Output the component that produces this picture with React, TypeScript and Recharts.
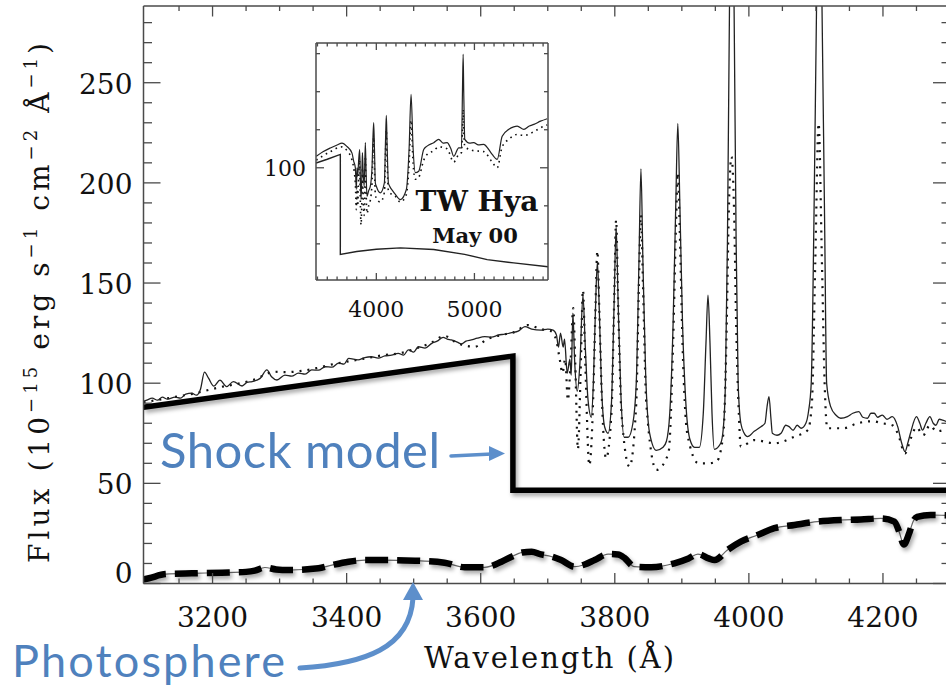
import React from "react";
import { ComposedChart, LineChart, Line, XAxis, YAxis } from "recharts";

type Pt = [number, number];

// ---- main panel data (wavelength in Å, flux in 1e-15 erg/s/cm2/Å) ----
const observedSolid: Pt[] = [
  [3097, 91], [3102, 91.6], [3110, 92.5], [3118, 91.5], [3125, 93], [3133, 92], [3144, 93], [3152, 92.5],
  [3160, 94.5], [3169, 95], [3176, 94], [3182, 97], [3188, 105.5], [3194, 102.5], [3202, 98.5], [3211, 101.5],
  [3221, 98.3], [3231, 100.8], [3244, 98.6], [3252, 100.5], [3259, 100.8], [3266, 101.5], [3271, 102.4],
  [3281, 106.6], [3288, 103.2], [3296, 101.6], [3308, 104], [3318, 103.5], [3328, 105], [3338, 104.5],
  [3348, 106.6], [3358, 106.5], [3368, 108.2], [3378, 108], [3388, 110], [3396, 109.5], [3403, 112.4],
  [3417, 111.6], [3427, 112.8], [3437, 113.2], [3447, 112.5], [3457, 113.6], [3467, 114], [3477, 114.9],
  [3485, 114], [3492, 116.6], [3500, 115.5], [3507, 118.2], [3517, 117.5], [3527, 119.9], [3535, 121],
  [3544, 122.9], [3550, 122], [3556, 121.6], [3565, 120.5], [3571, 119.6], [3578, 121], [3586, 121.6],
  [3595, 122.5], [3606, 123.2], [3616, 123], [3626, 124], [3636, 124.5], [3646, 125.2], [3656, 126],
  [3666, 128.2], [3676, 127], [3690, 126.5], [3700, 127], [3708, 126.5],
  [3713, 124], [3716, 118], [3719, 125], [3723, 118], [3725, 122], [3729, 105], [3733, 112], [3735, 104],
  [3737.5, 135], [3740, 112], [3744, 96], [3748, 110], [3752.5, 144], [3756, 118], [3760, 92], [3765, 83],
  [3768, 100], [3771, 135], [3774, 160.5], [3777, 135], [3780, 100], [3785, 78], [3790, 75], [3795, 90],
  [3799, 140], [3802, 178], [3805, 140], [3809, 95], [3814, 73], [3820, 73], [3827, 80], [3832, 100],
  [3836, 160], [3839, 207], [3842, 160], [3846, 105], [3852, 75], [3862, 66.5], [3872, 68], [3877, 71],
  [3882, 85], [3887, 130], [3891, 190], [3894, 229.7], [3897, 190], [3901, 130], [3906, 90], [3912, 72],
  [3919, 68], [3926, 68], [3932, 85], [3936, 120], [3939, 144], [3942, 120], [3945, 85], [3948.5, 67],
  [3958, 70], [3962, 78], [3965, 100], [3968, 170], [3971, 285], [3974.5, 380], [3978, 285], [3981, 170],
  [3984, 100], [3988, 80], [3993, 75], [3998, 73.3], [4008, 76], [4018, 78.3], [4024, 80], [4027, 88],
  [4030, 93.3], [4033, 82], [4035, 75], [4042, 74], [4048, 75], [4055, 79], [4060, 78.3], [4066, 76.5],
  [4072, 79], [4078, 77.5], [4085, 80], [4089, 86], [4093, 100], [4097, 180], [4101, 290], [4105, 380],
  [4109, 290], [4113, 180], [4116, 100], [4122, 88.3], [4130, 84], [4137, 82.5], [4147, 83.3], [4155, 85],
  [4164, 85.8], [4170, 83], [4177, 82.5], [4182, 85], [4187, 85], [4192, 83], [4199, 84.1], [4206, 82],
  [4214, 83.3], [4222, 78.3], [4228, 70], [4233, 65.8], [4237, 70], [4241, 75], [4250, 83.3], [4255, 80],
  [4259, 76.6], [4264, 80], [4270, 83.3], [4275, 80], [4279, 79], [4284, 82], [4289, 81.6], [4300, 80],
];

const observedDotted: Pt[] = [
  [3097, 90.5], [3125, 92], [3150, 93.5], [3175, 95], [3194, 96.6], [3211, 98], [3235, 99.5], [3260, 101.5],
  [3293, 105.7], [3308, 105.5], [3330, 106], [3355, 107.5], [3380, 109.5], [3405, 111], [3430, 112.5],
  [3455, 114], [3480, 115], [3505, 117.5], [3525, 120], [3546, 123.6], [3565, 120], [3591, 118.2],
  [3610, 122], [3630, 124], [3650, 125.5], [3670, 129], [3690, 127], [3705, 126], [3713, 121], [3718, 111.6],
  [3722, 105], [3726, 112], [3730, 91.5], [3734, 110], [3738, 137.5], [3741, 110], [3745, 67], [3749, 105],
  [3752.5, 146.5], [3756, 110], [3762, 59], [3768, 95], [3771, 135], [3774, 166], [3777, 135], [3781, 90],
  [3787, 62.5], [3795, 85], [3799, 140], [3802, 181.5], [3805, 140], [3810, 85], [3822, 58.3], [3832, 90],
  [3836, 150], [3839, 184], [3842, 150], [3847, 90], [3862, 56.7], [3880, 65], [3887, 120], [3891, 175],
  [3894, 205], [3897, 175], [3901, 120], [3908, 75], [3925, 60], [3940, 60], [3952, 61], [3962, 75],
  [3967, 130], [3970, 185], [3974, 213], [3978, 185], [3981, 130], [3985, 85], [3988, 68.3], [4008, 71.6],
  [4038, 70], [4068, 73.3], [4088, 76.6], [4094, 90], [4099, 160], [4104, 229.7], [4109, 160], [4113, 100],
  [4117, 77.5], [4141, 77.5], [4162, 80], [4185, 81], [4199, 80], [4214, 79], [4222, 75], [4233, 65],
  [4241, 72], [4250, 78], [4260, 74], [4270, 79], [4280, 76], [4300, 78],
];

const shockModel: Pt[] = [[3097, 88], [3648, 113.5], [3648, 46.5], [4300, 46.5]];

const photosphere: Pt[] = [
  [3097, 2], [3105, 2.6], [3130, 4.7], [3169, 5.1], [3214, 5.4], [3250, 5.8], [3263, 6.4], [3278, 8],
  [3295, 7], [3313, 6.7], [3358, 7.6], [3378, 9.2], [3403, 10.9], [3427, 11.7], [3452, 11.7], [3502, 11.4],
  [3546, 10.4], [3576, 8.1], [3606, 8.1], [3631, 10.9], [3646, 13.4], [3662, 15.5], [3676, 15.9],
  [3690, 14.5], [3705, 13.5], [3720, 11.7], [3740, 8.4], [3755, 9.5], [3770, 11.7], [3790, 14.7],
  [3805, 14.5], [3815, 12.6], [3829, 8.4], [3854, 8.1], [3889, 10.1], [3910, 12.5], [3924, 14.7],
  [3940, 12.5], [3949, 11.7], [3968, 16.7], [3988, 20.9], [4013, 24.2], [4038, 27.6], [4068, 29.2],
  [4102, 30.9], [4137, 31.7], [4167, 32], [4197, 32.5], [4217, 30.9], [4224, 26], [4231, 19.5], [4239, 25],
  [4245, 31], [4251, 33.3], [4271, 34.2], [4300, 34],
];

const xMajor = [3200, 3400, 3600, 3800, 4000, 4200];
const xTicks = [
  3150, 3200, 3250, 3300, 3350, 3400, 3450, 3500, 3550, 3600, 3650, 3700, 3750, 3800, 3850, 3900, 3950,
  4000, 4050, 4100, 4150, 4200, 4250,
];
const yMajor = [0, 50, 100, 150, 200, 250];
const yTicks = [
  0, 10, 20, 30, 40, 50, 60, 70, 80, 90, 100, 110, 120, 130, 140, 150, 160, 170, 180, 190, 200, 210, 220,
  230, 240, 250, 260, 270, 280,
];

// ---- inset data ----
const insetSolid: Pt[] = [
  [3388, 106], [3460, 108.5], [3531, 110.4], [3600, 112], [3650, 113], [3701, 111.2], [3752, 107.7],
  [3769, 103.5], [3786, 100], [3796, 88.6], [3803, 100], [3810, 95.6], [3820, 104], [3830, 109.6],
  [3837, 95], [3844, 83.3], [3852, 95], [3858, 108], [3864, 100], [3876, 90], [3888, 113.2], [3897, 95],
  [3905, 85], [3922, 88], [3939, 90.3], [3956, 100], [3965, 115], [3973, 123.7], [3981, 110], [3990, 92],
  [4000, 90.3], [4041, 86.8], [4082, 92], [4094, 115], [4102, 127.5], [4110, 112], [4123, 92], [4136, 90.3],
  [4165, 88], [4194, 86], [4245, 83.3], [4306, 88.6], [4334, 110], [4354, 138.6], [4375, 110], [4398, 97.4],
  [4432, 98.2], [4483, 109.6], [4517, 111.4], [4585, 113.2], [4636, 114.9], [4680, 113], [4721, 113.2],
  [4760, 110], [4789, 106], [4840, 110.5], [4868, 110.4], [4878, 140], [4885, 159.6], [4891, 140],
  [4902, 114.9], [4950, 113], [4993, 113.2], [5040, 112], [5095, 112.3], [5140, 110], [5181, 107],
  [5232, 104.4], [5283, 116.6], [5351, 120.2], [5400, 121.5], [5436, 121.9], [5504, 120.2], [5560, 122],
  [5606, 122.8], [5674, 124.5], [5742, 125.8],
];

const insetDotted: Pt[] = [
  [3388, 104], [3531, 108.5], [3650, 111], [3701, 109], [3752, 104], [3786, 92], [3796, 78], [3803, 90],
  [3810, 80], [3820, 95], [3830, 104], [3837, 82], [3844, 70], [3852, 82], [3858, 100], [3864, 88],
  [3876, 75], [3888, 106], [3897, 85], [3905, 76], [3922, 80], [3939, 83], [3956, 92], [3965, 108],
  [3973, 116], [3981, 100], [3990, 86], [4000, 84], [4041, 82], [4082, 87], [4094, 108], [4102, 120],
  [4110, 104], [4123, 88], [4136, 87], [4194, 85], [4245, 82], [4306, 86], [4334, 102], [4354, 125],
  [4375, 102], [4398, 94], [4432, 95], [4483, 104], [4517, 107], [4585, 109], [4636, 111], [4721, 110],
  [4789, 103], [4840, 107], [4868, 108], [4878, 120], [4885, 130.7], [4891, 120], [4902, 111], [4993, 109],
  [5095, 108.5], [5181, 103], [5232, 100], [5283, 111], [5351, 115], [5436, 117.5], [5504, 117],
  [5606, 119], [5674, 121], [5742, 122.5],
];

const insetModel: Pt[] = [
  [3385, 102.5], [3500, 104.5], [3633, 107], [3633, 54.4], [3800, 56], [4000, 57.2], [4245, 57.9],
  [4585, 57], [4900, 54.5], [5130, 51.7], [5400, 50], [5750, 48],
];

const insetXTicks = [
  3400, 3500, 3600, 3700, 3800, 3900, 4000, 4100, 4200, 4300, 4400, 4500, 4600, 4700, 4800, 4900, 5000,
  5100, 5200, 5300, 5400, 5500, 5600, 5700,
];
const insetXMajor = [4000, 5000];
const insetYTicks = [60, 80, 100, 120, 140, 160];
const insetYMajor = [100];

const X_DOMAIN: [number, number] = [3097, 4300];
const Y_DOMAIN: [number, number] = [0, 288.3];
const INSET_X: [number, number] = [3385, 5750];
const INSET_Y: [number, number] = [41, 165.6];

const rows = (pts: Pt[]) => pts.map(([x, y]) => ({ x, y }));

const AXIS = "#4a4a4a";
const SERIF = "'DejaVu Serif', serif";
const SANS = "Lato, 'Open Sans', sans-serif";
const BLUE = "#4F81BD";
const ARROW = "#5D8FCB";

const axisLine = { stroke: AXIS, strokeWidth: 1.5 };

// ticks point inward (IDL style); the tick props give the point on the axis line
function makeTick(
  side: "bottom" | "top" | "left" | "right",
  majors: number[],
  big: number,
  small: number,
  label?: (v: number, x: number, y: number) => React.ReactNode,
) {
  return (p: any) => {
    const { x, y, payload } = p;
    const v = payload.value;
    const major = majors.includes(v);
    const len = major ? big : small;
    let x2 = x;
    let y2 = y;
    if (side === "bottom") y2 = y - len;
    if (side === "top") y2 = y + len;
    if (side === "left") x2 = x + len;
    if (side === "right") x2 = x - len;
    return (
      <g>
        <line x1={x} y1={y} x2={x2} y2={y2} stroke={AXIS} strokeWidth={1.3} />
        {major && label ? label(v, x, y) : null}
      </g>
    );
  };
}

const mainBottomTick = makeTick("bottom", xMajor, 10.5, 5, (v, x, y) => (
  <text x={x} y={y + 43} textAnchor="middle" fontFamily={SERIF} fontSize={28} fill="#111">{v}</text>
));
const mainTopTick = makeTick("top", xMajor, 10.5, 5);
const mainLeftTick = makeTick("left", yMajor, 17, 8.5, (v, x, y) => (
  <text x={x - 11} y={y + (v === 0 ? -1 : 11)} textAnchor="end" fontFamily={SERIF} fontSize={28} fill="#111">{v}</text>
));
const mainRightTick = makeTick("right", yMajor, 17, 8.5);

const insetBottomTick = makeTick("bottom", insetXMajor, 7, 3.5, (v, x, y) => (
  <text x={x} y={y + 37} textAnchor="middle" fontFamily={SERIF} fontSize={22} fill="#111">{v}</text>
));
const insetTopTick = makeTick("top", insetXMajor, 7, 3.5);
const insetLeftTick = makeTick("left", insetYMajor, 8, 4, (v, x, y) => (
  <text x={x - 10} y={y + 8} textAnchor="end" fontFamily={SERIF} fontSize={22} fill="#111">{v}</text>
));
const insetRightTick = makeTick("right", insetYMajor, 8, 4);

const common = { type: "number" as const, allowDataOverflow: true, interval: 0 as const, tickSize: 0, tickMargin: 0, tickLine: false, axisLine };

function Inset() {
  return (
    <div style={{ position: "absolute", left: 256, top: 28 }}>
      <LineChart width={307} height={297} margin={{ top: 14, right: 14, bottom: 5, left: 20 }}>
        <XAxis {...common} dataKey="x" domain={INSET_X} ticks={insetXTicks} height={40} tick={insetBottomTick} />
        <XAxis {...common} xAxisId="top" orientation="top" dataKey="x" domain={INSET_X} ticks={insetXTicks}
          height={1} tick={insetTopTick} />
        <YAxis {...common} domain={INSET_Y} ticks={insetYTicks} width={40} tick={insetLeftTick} />
        <YAxis {...common} yAxisId="right" orientation="right" domain={INSET_Y} ticks={insetYTicks} width={1}
          tick={insetRightTick} />
        <Line data={rows(insetDotted)} dataKey="y" type="monotone" stroke="#111" strokeWidth={1.6}
          strokeDasharray="1.6 4" dot={false} activeDot={false} isAnimationActive={false} />
        <Line data={rows(insetSolid)} dataKey="y" type="monotone" stroke="#222" strokeWidth={1.2}
          dot={false} activeDot={false} isAnimationActive={false} />
        <Line data={rows(insetModel)} dataKey="y" type="linear" stroke="#222" strokeWidth={1.4}
          dot={false} activeDot={false} isAnimationActive={false} />
      </LineChart>
    </div>
  );
}

export default function App() {
  return (
    <div style={{ position: "absolute", left: 0, top: 0, width: 946, height: 688, overflow: "hidden", background: "#fff" }}>
      <style>{`.soft-shadow path { filter: drop-shadow(2px 3px 2px rgba(0,0,0,0.35)); }`}</style>
      <ComposedChart width={960} height={688} margin={{ top: 5, right: 9, bottom: 44.5, left: 83.5 }}>
        <XAxis {...common} dataKey="x" domain={X_DOMAIN} ticks={xTicks} height={60} tick={mainBottomTick} />
        <XAxis {...common} xAxisId="top" orientation="top" dataKey="x" domain={X_DOMAIN} ticks={xTicks}
          height={1} tick={mainTopTick} />
        <YAxis {...common} domain={Y_DOMAIN} ticks={yTicks} width={60} tick={mainLeftTick} />
        <YAxis {...common} yAxisId="right" orientation="right" domain={Y_DOMAIN} ticks={yTicks} width={1}
          tick={mainRightTick} />

        <Line data={rows(observedDotted)} dataKey="y" type="monotone" stroke="#111" strokeWidth={2.2}
          strokeDasharray="2 6" dot={false} activeDot={false} isAnimationActive={false} />
        <Line data={rows(observedSolid)} dataKey="y" type="monotone" stroke="#222" strokeWidth={1.3}
          dot={false} activeDot={false} isAnimationActive={false} />
        <Line className="soft-shadow" data={rows(shockModel)} dataKey="y" type="linear" stroke="#000"
          strokeWidth={5.5} dot={false} activeDot={false} isAnimationActive={false} />
        <Line data={rows(photosphere)} dataKey="y" type="monotone" stroke="#666" strokeWidth={1.2}
          dot={false} activeDot={false} isAnimationActive={false} />
        <Line className="soft-shadow" data={rows(photosphere)} dataKey="y" type="monotone" stroke="#000"
          strokeWidth={6.5} strokeDasharray="23 9" dot={false} activeDot={false} isAnimationActive={false} />
      </ComposedChart>

      <Inset />

      <svg width={946} height={688} style={{ position: "absolute", left: 0, top: 0, pointerEvents: "none" }}>
        <text transform="translate(49, 303) rotate(-90)" textAnchor="middle" fontFamily={SERIF} fontSize={28}
          fill="#111" textLength={520}>
          Flux (10<tspan dy={-12} fontSize={18}>−15</tspan>
          <tspan dy={12}> erg s</tspan><tspan dy={-12} fontSize={18}>−1</tspan>
          <tspan dy={12}> cm</tspan><tspan dy={-12} fontSize={18}>−2</tspan>
          <tspan dy={12}> Å</tspan><tspan dy={-12} fontSize={18}>−1</tspan>
          <tspan dy={12}>)</tspan>
        </text>
        <text x={549} y={668} textAnchor="middle" fontFamily={SERIF} fontSize={29} fill="#111" textLength={250}>
          Wavelength (Å)
        </text>

        <text x={477} y={211} textAnchor="middle" fontFamily={SERIF} fontWeight="bold" fontSize={28} fill="#111">TW Hya</text>
        <text x={475} y={243} textAnchor="middle" fontFamily={SERIF} fontWeight="bold" fontSize={21} fill="#111">May 00</text>

        <text x={160} y={468} fontFamily={SANS} fontSize={49} fill={BLUE} textLength={280}>Shock model</text>
        <path d="M 451 456 L 492 454" stroke={ARROW} strokeWidth={3.5} fill="none" strokeLinecap="round" />
        <polygon points="489,446 505,453.5 489,461" fill={ARROW} />

        <text x={12} y={677} fontFamily={SANS} fontSize={45} fill={BLUE} textLength={273}>Photosphere</text>
        <path d="M 300 668 C 365 664, 410 648, 413 598" stroke={ARROW} strokeWidth={5} fill="none" strokeLinecap="round" />
        <polygon points="403,600 413,582 423,600" fill={ARROW} />
      </svg>
    </div>
  );
}
